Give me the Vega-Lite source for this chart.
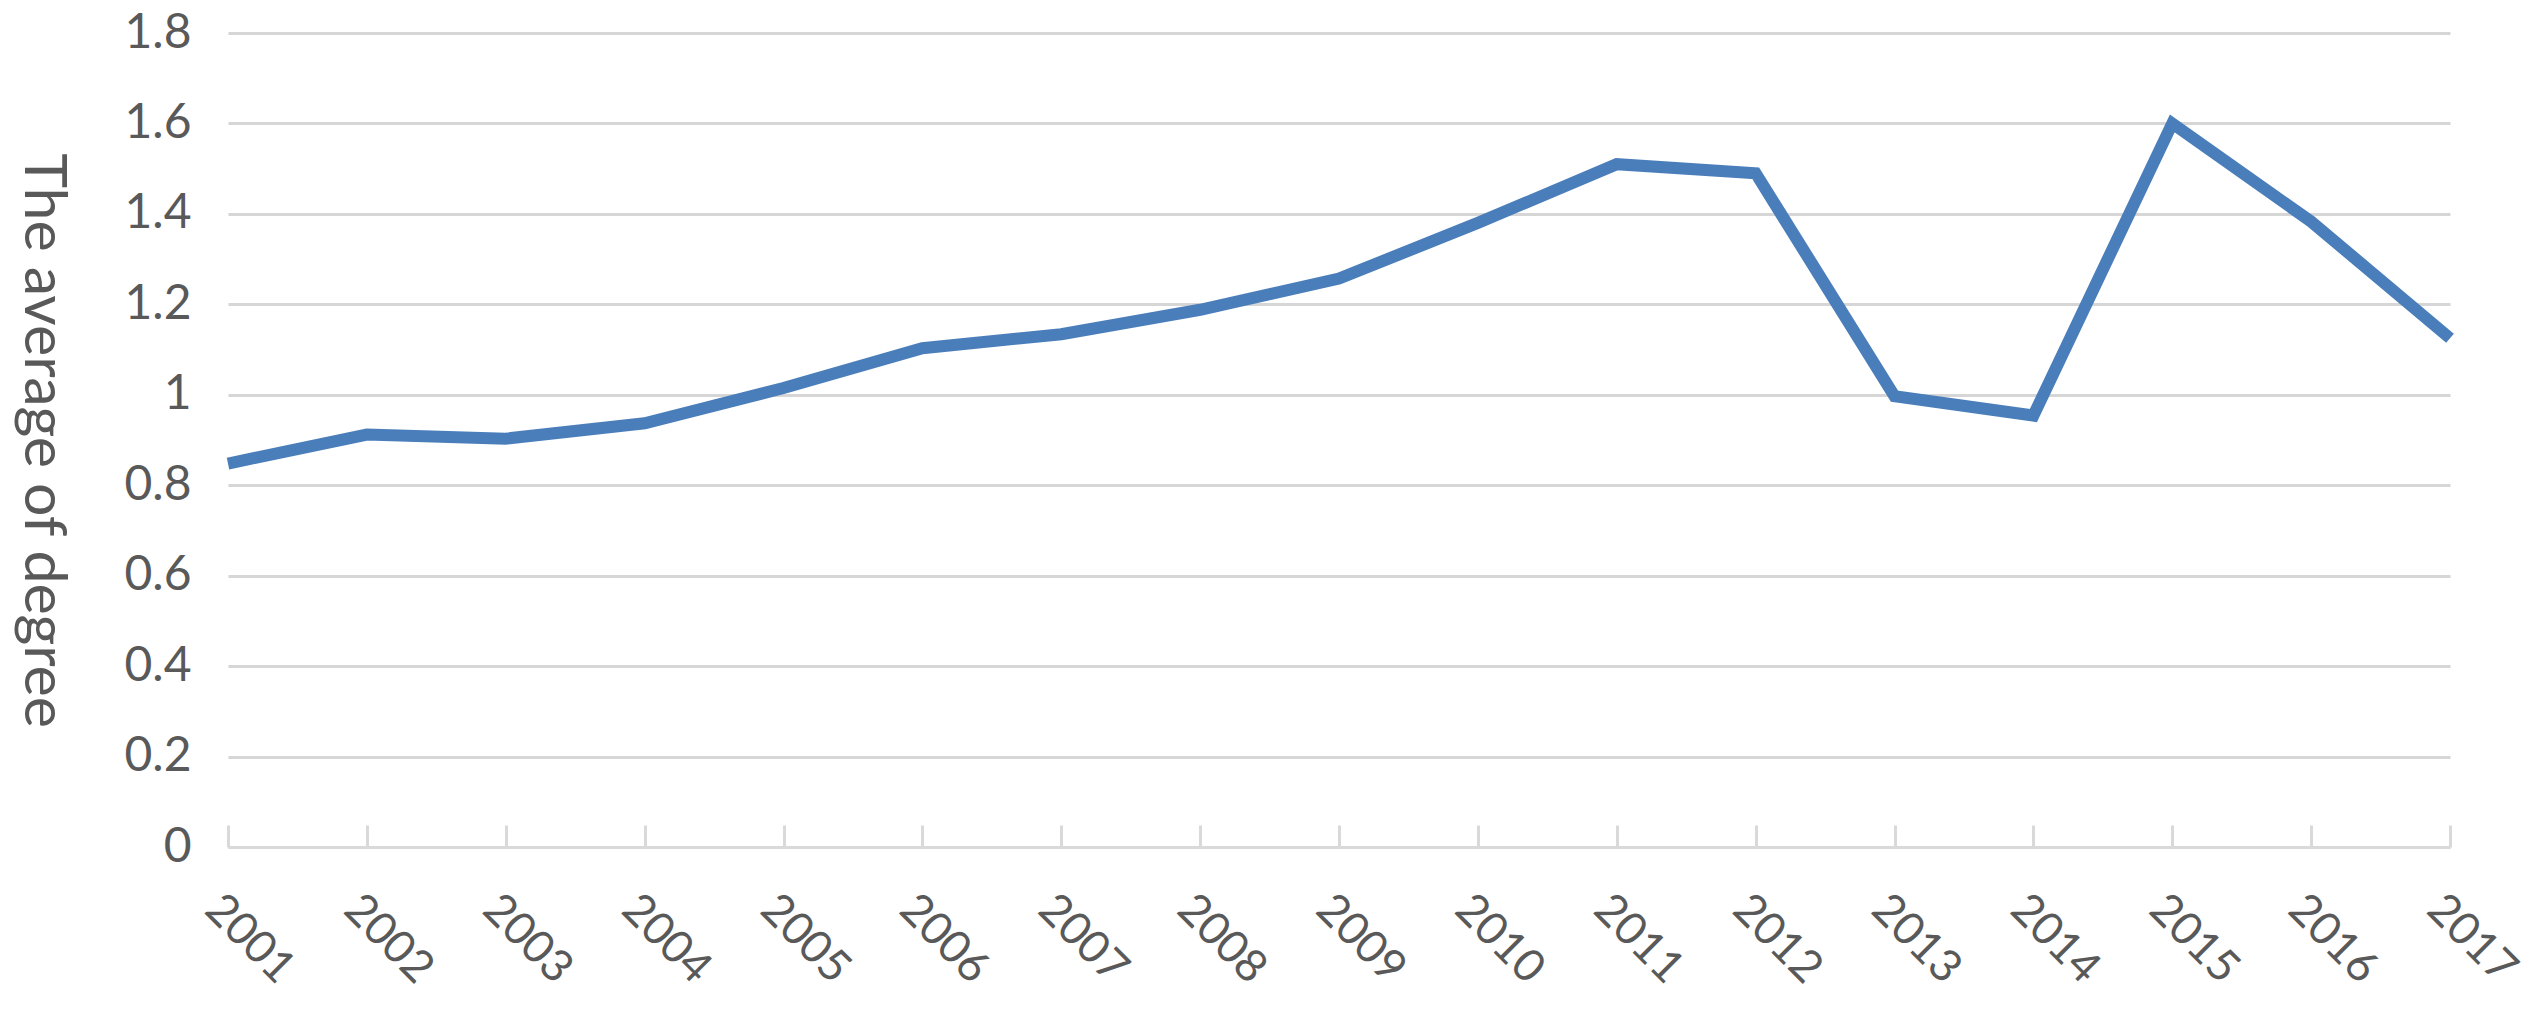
{
  "$schema": "https://vega.github.io/schema/vega-lite/v6.json",
  "autosize": {"type": "none"},
  "padding": {"left": 228, "top": 33, "right": 82, "bottom": 168},
  "width": 2222,
  "height": 814,
  "background": "white",
  "config": {
    "view": {"stroke": null},
    "font": "Lato"
  },
  "data": {
    "values": [
      {"year": "2001", "value": 0.848},
      {"year": "2002", "value": 0.912},
      {"year": "2003", "value": 0.903},
      {"year": "2004", "value": 0.937},
      {"year": "2005", "value": 1.015},
      {"year": "2006", "value": 1.103},
      {"year": "2007", "value": 1.134},
      {"year": "2008", "value": 1.188},
      {"year": "2009", "value": 1.257},
      {"year": "2010", "value": 1.38},
      {"year": "2011", "value": 1.51},
      {"year": "2012", "value": 1.49},
      {"year": "2013", "value": 0.997},
      {"year": "2014", "value": 0.954},
      {"year": "2015", "value": 1.6},
      {"year": "2016", "value": 1.383},
      {"year": "2017", "value": 1.125}
    ]
  },
  "mark": {"type": "line", "color": "#4A7EBB", "strokeWidth": 12, "strokeJoin": "miter", "strokeCap": "butt"},
  "encoding": {
    "x": {
      "field": "year",
      "type": "ordinal",
      "scale": {"type": "point", "padding": 0},
      "axis": {
        "title": null,
        "labelAngle": 45,
        "labelAlign": "left",
        "labelBaseline": "top",
        "labelFont": "Lato",
        "labelFontSize": 45,
        "labelColor": "#595959",
        "labelPadding": 61,
        "labelOverlap": false,
        "labelFlush": false,
        "domainColor": "#d9d9d9",
        "domainWidth": 3,
        "ticks": true,
        "tickColor": "#d9d9d9",
        "tickWidth": 3,
        "tickSize": -22,
        "grid": false
      }
    },
    "y": {
      "field": "value",
      "type": "quantitative",
      "scale": {"domain": [0, 1.8], "nice": false, "zero": true},
      "axis": {
        "title": "The average of degree",
        "titleFont": "Lato",
        "titleFontSize": 59,
        "titleFontWeight": "normal",
        "titleColor": "#595959",
        "titleAngle": 90,
        "titleBaseline": "middle",
        "titleAlign": "center",
        "titleX": -186,
        "titleY": 407,
        "values": [0, 0.2, 0.4, 0.6, 0.8, 1, 1.2, 1.4, 1.6, 1.8],
        "format": "~g",
        "labelFont": "Lato",
        "labelFontSize": 48,
        "labelColor": "#595959",
        "labelPadding": 37,
        "labelFlush": false,
        "labelOverlap": false,
        "ticks": false,
        "domain": false,
        "grid": true,
        "gridColor": "#d6d6d6",
        "gridWidth": 3
      }
    }
  }
}
